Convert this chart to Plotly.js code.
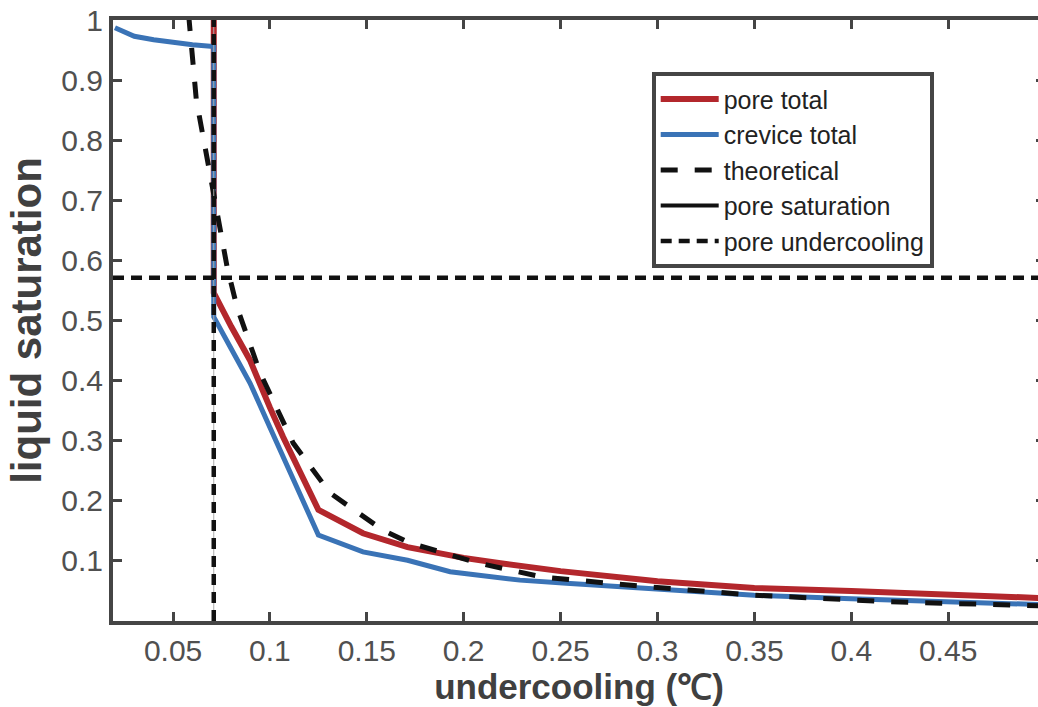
<!DOCTYPE html>
<html>
<head>
<meta charset="utf-8">
<script src="https://cdn.plot.ly/plotly-3.0.1.min.js"></script>
<style>
html,body{margin:0;padding:0;overflow:hidden;background:#fff;}
#chart{width:1060px;height:707px;}
</style>
</head>
<body>
<div id="chart"></div>
<script>
// pore total (red)
const poreTotalX = [0.071, 0.071, 0.08, 0.0897, 0.1, 0.1068, 0.125, 0.148, 0.171, 0.2, 0.219, 0.25, 0.3, 0.35, 0.4, 0.45, 0.5];
const poreTotalY = [1.0, 0.546, 0.49, 0.434, 0.355, 0.306, 0.185, 0.146, 0.123, 0.105, 0.096, 0.083, 0.066, 0.055, 0.05, 0.044, 0.038];
// crevice total (blue)
const creviceX = [0.02, 0.03, 0.04, 0.05, 0.06, 0.071, 0.071, 0.08, 0.0897, 0.1, 0.1068, 0.125, 0.148, 0.171, 0.193, 0.229, 0.253, 0.3, 0.35, 0.4, 0.45, 0.5];
const creviceY = [0.987, 0.973, 0.967, 0.962, 0.959, 0.956, 0.506, 0.453, 0.396, 0.322, 0.273, 0.143, 0.115, 0.101, 0.082, 0.068, 0.063, 0.054, 0.043, 0.037, 0.032, 0.027];
// theoretical (black dashed)
const theoX = [0.058, 0.062, 0.069, 0.0779, 0.083, 0.0949, 0.112, 0.131, 0.1584, 0.172, 0.208, 0.241, 0.2946, 0.35, 0.42, 0.5];
const theoY = [1.01, 0.867, 0.745, 0.589, 0.522, 0.413, 0.296, 0.213, 0.151, 0.13, 0.096, 0.073, 0.057, 0.043, 0.032, 0.025];
// pore saturation / pore undercooling reference lines
const poreSaturation = 0.571;
const poreUndercooling = 0.071;
const xRange = [0.019, 0.5];
const yRange = [0, 1];
const xTicks = [0.05, 0.1, 0.15, 0.2, 0.25, 0.3, 0.35, 0.4, 0.45];
const yTicks = [0.1, 0.2, 0.3, 0.4, 0.5, 0.6, 0.7, 0.8, 0.9, 1];

const dotted = {color:'#111', width:4.5, dash:'11px,7px'};
const traces = [
  {x: poreTotalX, y: poreTotalY, mode:'lines', name:'pore total', legendrank:1,
   line:{color:'#b3272c', width:6}},
  {x: creviceX, y: creviceY, mode:'lines', name:'crevice total', legendrank:2,
   line:{color:'#3a73b6', width:5}},
  {x: theoX, y: theoY, mode:'lines', name:'theoretical', legendrank:3,
   line:{color:'#111', width:5, dash:'17px,17px'}},
  {x: [poreUndercooling, poreUndercooling], y: yRange, mode:'lines', showlegend:false,
   hoverinfo:'skip', line:{color:'#aaaaaa', width:1}},
  {x: xRange, y: [poreSaturation, poreSaturation], mode:'lines', showlegend:false,
   line: dotted},
  {x: [poreUndercooling, poreUndercooling], y: yRange, mode:'lines', name:'pore undercooling', legendrank:5,
   line: dotted},
  {x: [null], y: [null], mode:'lines', name:'pore saturation', legendrank:4,
   line:{color:'#111', width:4}}
];

const axisCommon = {
  showline:true, linecolor:'#454545', linewidth:4, mirror:'ticks',
  ticks:'inside', ticklen:9, tickwidth:3, tickcolor:'#454545',
  showgrid:false, zeroline:false,
  tickfont:{family:'Liberation Sans, Arial, sans-serif', size:30, color:'#505050'}
};

const layout = {
  width:1060, height:707,
  margin:{l:113, r:15, t:20, b:86},
  paper_bgcolor:'#fff', plot_bgcolor:'#fff',
  showlegend:true,
  xaxis: Object.assign({}, axisCommon, {
    range:xRange, tickvals:xTicks, ticklabelstandoff:0,
    title:{text:'undercooling (℃)', standoff:2,
      font:{family:'Liberation Sans, Arial, sans-serif', size:35, color:'#404040', weight:'bold'}}
  }),
  yaxis: Object.assign({}, axisCommon, {
    range:yRange, tickvals:yTicks, ticklabelstandoff:0,
    title:{text:'liquid saturation', standoff:8,
      font:{family:'Liberation Sans, Arial, sans-serif', size:42, color:'#404040', weight:'bold'}}
  }),
  legend:{x:0.578, y:0.913, xanchor:'left', yanchor:'top',
    bgcolor:'#fff', bordercolor:'#454545', borderwidth:4,
    font:{family:'Liberation Sans, Arial, sans-serif', size:25, color:'#222'},
    tracegroupgap:0, itemwidth:58}
};

Plotly.newPlot('chart', traces, layout, {displayModeBar:false, staticPlot:true});
</script>
</body>
</html>
